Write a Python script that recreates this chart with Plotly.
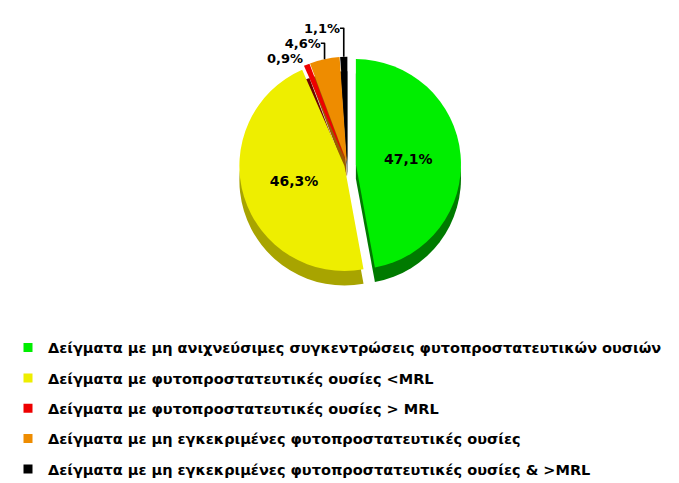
import plotly.graph_objects as go

labels = [
    "Δείγματα με μη ανιχνεύσιμες συγκεντρώσεις φυτοπροστατευτικών ουσιών",
    "Δείγματα με φυτοπροστατευτικές ουσίες <MRL",
    "Δείγματα με φυτοπροστατευτικές ουσίες > MRL",
    "Δείγματα με μη εγκεκριμένες φυτοπροστατευτικές ουσίες",
    "Δείγματα με μη εγκεκριμένες φυτοπροστατευτικές ουσίες & >MRL",
]
values = [47.1, 46.3, 0.9, 4.6, 1.1]
value_text = ["47,1%", "46,3%", "0,9%", "4,6%", "1,1%"]

top_colors = ["#00EE00", "#EEEE00", "#EE0000", "#EE8C00", "#000000"]
side_colors = ["#007A00", "#A8A400", "#6E0000", "#9A5A00", "#111111"]
pulls = [0.08, 0.03, 0.03, 0.03, 0.03]
text_pos = ["inside", "inside", "outside", "outside", "outside"]

FONT = "DejaVu Sans"

fig = go.Figure()

# depth (side) layer, drawn slightly lower
fig.add_trace(go.Pie(
    labels=labels, values=values, sort=False, direction="clockwise", rotation=0,
    pull=pulls, marker=dict(colors=side_colors, line=dict(width=0)),
    text=value_text, textinfo="text", textposition=text_pos,
    textfont=dict(family=FONT, size=14, color="rgba(0,0,0,0)", weight="bold"),
    outsidetextfont=dict(family=FONT, size=13, color="rgba(0,0,0,0)", weight="bold"),
    hoverinfo="skip", showlegend=False,
    domain=dict(x=[0, 1], y=[0.41, 0.88]),
))

# top face
fig.add_trace(go.Pie(
    labels=labels, values=values, sort=False, direction="clockwise", rotation=0,
    pull=pulls, marker=dict(colors=top_colors, line=dict(width=0)),
    text=value_text, textinfo="text", textposition=text_pos,
    insidetextorientation="horizontal",
    textfont=dict(family=FONT, size=14, color="black", weight="bold"),
    outsidetextfont=dict(family=FONT, size=13, color="black", weight="bold"),
    showlegend=False,
    domain=dict(x=[0, 1], y=[0.44, 0.91]),
))

# legend entries (one per category, same colours as the slices)
for lab, col in zip(labels, top_colors):
    fig.add_trace(go.Scatter(
        x=[None], y=[None], mode="markers", name=lab, legendgroup=lab,
        marker=dict(symbol="square", size=9, color=col),
        showlegend=True, hoverinfo="skip",
    ))

fig.update_layout(
    width=679, height=483,
    margin=dict(l=0, r=0, t=0, b=0, autoexpand=False),
    paper_bgcolor="white", plot_bgcolor="white",
    xaxis=dict(visible=False), yaxis=dict(visible=False),
    legend=dict(
        xref="container", yref="container",
        x=0.0, y=0.33, xanchor="left", yanchor="top",
        orientation="v", traceorder="grouped", tracegroupgap=8.5,
        font=dict(family=FONT, size=14.5, color="black", weight="bold"),
        itemwidth=30, bgcolor="rgba(0,0,0,0)",
    ),
)

fig.write_html("out.html")
